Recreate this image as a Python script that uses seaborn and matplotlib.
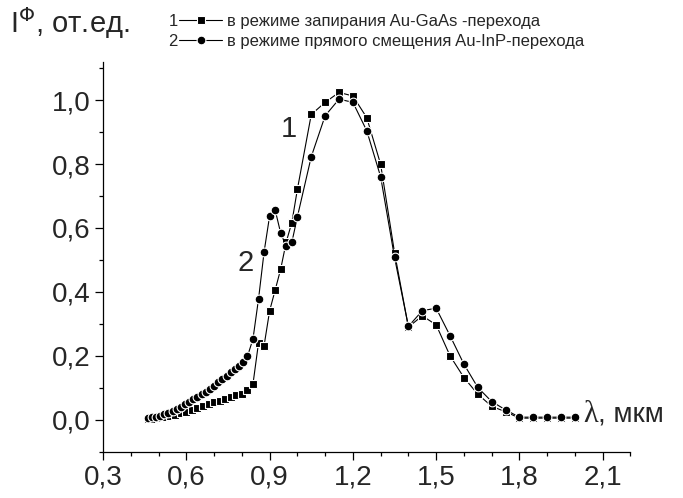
import numpy as np
import pandas as pd
import matplotlib
matplotlib.use("Agg")
import matplotlib.pyplot as plt
import seaborn as sns
from matplotlib.ticker import MultipleLocator, FuncFormatter

# --- series 1: square markers (Au-GaAs, reverse bias) ---
wl_1 = [0.46, 0.48, 0.50, 0.52, 0.54, 0.56, 0.58, 0.60, 0.62, 0.64,
        0.66, 0.68, 0.70, 0.72, 0.74, 0.76, 0.78, 0.80, 0.82,
        0.84, 0.86, 0.88, 0.90, 0.92, 0.94, 0.96, 0.98, 1.00,
        1.05, 1.10, 1.15, 1.20, 1.25, 1.30, 1.35, 1.40, 1.45, 1.50,
        1.55, 1.60, 1.65, 1.70, 1.75, 1.80, 1.85, 1.90, 1.95, 2.00]
sig_1 = [0.002, 0.003, 0.005, 0.008, 0.011, 0.015, 0.020, 0.025, 0.030, 0.036,
         0.042, 0.048, 0.054, 0.060, 0.065, 0.070, 0.076, 0.082, 0.092,
         0.112, 0.241, 0.232, 0.341, 0.406, 0.472, 0.557, 0.617, 0.721,
         0.955, 0.993, 1.024, 1.013, 0.945, 0.799, 0.523, 0.290, 0.325, 0.297,
         0.200, 0.132, 0.080, 0.042, 0.025, 0.005, 0.005, 0.005, 0.005, 0.005]

# --- series 2: circle markers (Au-InP, forward bias) ---
wl_2 = [0.460, 0.475, 0.490, 0.505, 0.520, 0.535, 0.550, 0.565, 0.580, 0.595,
        0.610, 0.625, 0.640, 0.655, 0.670, 0.685, 0.700, 0.715, 0.730, 0.745,
        0.760, 0.775, 0.790, 0.805, 0.820,
        0.84, 0.86, 0.88, 0.90, 0.92, 0.94, 0.96, 0.98, 1.00,
        1.05, 1.10, 1.15, 1.20, 1.25, 1.30, 1.35, 1.40, 1.45, 1.50,
        1.55, 1.60, 1.65, 1.70, 1.75, 1.80, 1.85, 1.90, 1.95, 2.00]
sig_2 = [0.005, 0.007, 0.010, 0.013, 0.017, 0.021, 0.027, 0.034, 0.041, 0.048,
         0.056, 0.064, 0.071, 0.079, 0.088, 0.096, 0.106, 0.117, 0.128, 0.138,
         0.148, 0.158, 0.168, 0.180, 0.198,
         0.253, 0.378, 0.525, 0.638, 0.656, 0.583, 0.542, 0.555, 0.635,
         0.823, 0.951, 1.003, 0.993, 0.904, 0.760, 0.508, 0.292, 0.341, 0.349,
         0.263, 0.174, 0.101, 0.057, 0.031, 0.008, 0.008, 0.008, 0.008, 0.008]

label_1 = "в режиме запирания Au-GaAs -перехода"
label_2 = "в режиме прямого смещения Au-InP-перехода"

df1 = pd.DataFrame({"wl": wl_1, "sig": sig_1})
df2 = pd.DataFrame({"wl": wl_2, "sig": sig_2})

sns.set_style("ticks")
plt.rcParams["font.family"] = ["Liberation Sans", "DejaVu Sans"]
plt.rcParams["xtick.direction"] = "out"
plt.rcParams["ytick.direction"] = "out"

fig = plt.figure(figsize=(6.83, 4.98), dpi=100)
ax = fig.add_axes([0.151, 0.093, 0.772, 0.783])

sns.lineplot(data=df1, x="wl", y="sig", ax=ax, color="black", linewidth=0.8,
             marker="s", markersize=5.6, markeredgecolor="white", markeredgewidth=0.8,
             label=label_1)
sns.lineplot(data=df2, x="wl", y="sig", ax=ax, color="black", linewidth=0.8,
             marker="o", markersize=6.3, markeredgecolor="white", markeredgewidth=0.8,
             label=label_2)

ax.set_xlim(0.3, 2.2)
ax.set_ylim(-0.1, 1.12)
ax.xaxis.set_minor_locator(MultipleLocator(0.1))
ax.yaxis.set_minor_locator(MultipleLocator(0.1))
comma = FuncFormatter(lambda v, p: f"{v:.1f}".replace(".", ","))
ax.set_xticks(np.arange(0.3, 2.15, 0.3))
ax.set_yticks(np.arange(0.0, 1.05, 0.2))
ax.xaxis.set_major_formatter(comma)
ax.yaxis.set_major_formatter(comma)
ax.tick_params(which="major", length=6, width=0.9, labelsize=20, pad=3, color="black")
ax.tick_params(which="minor", length=3, width=0.9, color="black")
ax.set_xlabel("")
ax.set_ylabel("")
for side in ["top", "right"]:
    ax.spines[side].set_visible(False)
for side in ["left", "bottom"]:
    ax.spines[side].set_linewidth(0.9)
    ax.spines[side].set_color("black")

# legend, with the curve numbers placed just before each handle
leg = ax.legend(loc="upper left", bbox_to_anchor=(0.262, 0.972),
                bbox_transform=fig.transFigure, frameon=False, fontsize=12,
                handlelength=2.6, handletextpad=0.3, labelspacing=0.3,
                borderpad=0, borderaxespad=0)
fig.canvas.draw()
renderer = fig.canvas.get_renderer()
inv = fig.transFigure.inverted()
for num, txt in zip(["1", "2"], leg.get_texts()):
    bb = txt.get_window_extent(renderer)
    x_left = leg.get_window_extent(renderer).x0
    y_mid = (bb.y0 + bb.y1) / 2
    fx, fy = inv.transform((x_left - 1, y_mid))
    fig.text(fx, fy, num, fontsize=12, ha="right", va="center")

# axis titles placed like the original
fig.text(0.015, 0.953, r"I$^{\Phi}$, от.ед.", fontsize=21, ha="left", va="center")
ax.text(2.03, 0.015, "λ", fontsize=22, family=["Liberation Serif", "DejaVu Serif"],
        ha="left", va="center")
ax.text(2.085, 0.015, ", мкм", fontsize=20, ha="left", va="center")

# curve numbers
ax.text(0.97, 0.91, "1", fontsize=21, ha="center", va="center")
ax.text(0.815, 0.49, "2", fontsize=21, ha="center", va="center")

fig.savefig("out.png", dpi=100)
